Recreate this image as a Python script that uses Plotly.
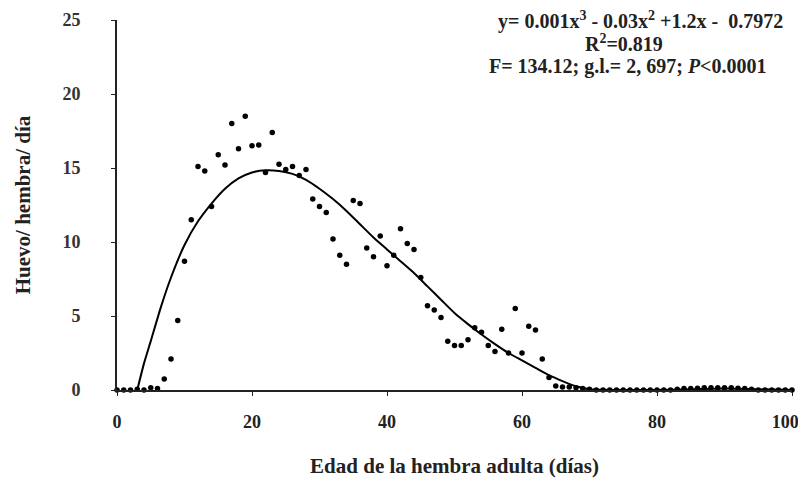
import plotly.graph_objects as go

# Observed data (day, eggs/female/day)
days = list(range(0, 101))
eggs = [0, 0, 0, 0.05, 0, 0.15, 0.1, 0.74, 2.1, 4.7,
        8.7, 11.5, 15.1, 14.8, 12.4, 15.9, 15.2, 18.0, 16.3, 18.5,
        16.5, 16.55, 14.7, 17.4, 15.25, 14.9, 15.1, 14.5, 14.9, 12.9,
        12.4, 12.0, 10.2, 9.1, 8.5, 12.8, 12.6, 9.6, 9.0, 10.4,
        8.4, 9.1, 10.9, 9.9, 9.5, 7.6, 5.7, 5.4, 4.9, 3.3,
        3.0, 3.0, 3.4, 4.2, 3.9, 3.0, 2.6, 4.1, 2.5, 5.5,
        2.5, 4.3, 4.05, 2.1, 0.85, 0.27, 0.2, 0.2, 0.15, 0.1,
        0.05, 0, 0, 0, 0, 0, 0, 0, 0, 0,
        0, 0, 0, 0.05, 0.1, 0.1, 0.12, 0.15, 0.15, 0.15,
        0.15, 0.15, 0.12, 0.1, 0.05, 0, 0, 0, 0, 0, 0]

# Fitted curve
curve_x = [3.0, 4, 5, 6.5, 8, 10, 12, 14, 16, 18, 20, 22, 24, 26, 28, 30, 32, 34,
           36, 38, 40, 42, 44, 46, 48, 50, 52, 54, 56, 58, 60, 62, 64, 66, 68, 70,
           75, 80, 85, 90, 95, 100]
curve_y = [0, 1.8, 3.3, 5.6, 7.6, 9.8, 11.4, 12.6, 13.6, 14.3, 14.7, 14.85, 14.8,
           14.6, 14.2, 13.6, 12.9, 12.1, 11.2, 10.3, 9.5, 8.7, 7.9, 7.0, 6.1, 5.2,
           4.45, 3.75, 3.1, 2.5, 2.0, 1.5, 1.0, 0.6, 0.25, 0.05, 0, 0, 0.05, 0.1,
           0.05, 0]

x_ticks = [0, 20, 40, 60, 80, 100]
y_ticks = [0, 5, 10, 15, 20, 25]

font_family = "Liberation Serif"
PAD = "&nbsp;" * 6

x_ticktext = ["<b>%d</b>" % v for v in x_ticks]
x_ticktext[-1] = x_ticktext[-1] + "&nbsp;" * 3  # keep last label inside the page

fig = go.Figure()
fig.add_trace(go.Scatter(x=curve_x, y=curve_y, mode="lines",
                         line=dict(color="black", width=2, shape="spline", smoothing=0.5),
                         cliponaxis=False, hoverinfo="skip"))
fig.add_trace(go.Scatter(x=days, y=eggs, mode="markers",
                         marker=dict(color="black", size=5.5),
                         cliponaxis=False))

fig.update_layout(
    width=798, height=470,
    margin=dict(l=109, r=14, t=12, b=88),
    paper_bgcolor="white", plot_bgcolor="white",
    showlegend=False,
    font=dict(family=font_family, color="#222"),
    xaxis=dict(range=[0, 100], tickvals=x_ticks, ticktext=x_ticktext,
               automargin=False, ticklabeloverflow="allow",
               showgrid=False, zeroline=False, showline=True, linecolor="#222",
               linewidth=2, ticks="outside", ticklen=4, tickwidth=1, tickcolor="#222",
               tickfont=dict(family=font_family, size=18, color="#222"),
               ticklabelstandoff=10,
               title=dict(text="<b>Edad de la hembra adulta (días)</b>",
                          font=dict(family=font_family, size=21, color="#222"),
                          standoff=29)),
    yaxis=dict(range=[0, 25], tickvals=y_ticks,
               ticktext=["<b>%d</b>%s" % (v, PAD) for v in y_ticks],
               automargin=False,
               showgrid=False, zeroline=False, showline=True, linecolor="#222",
               linewidth=2, ticks="outside", ticklen=4, tickwidth=1, tickcolor="#222",
               tickfont=dict(family=font_family, size=18, color="#333"),
               title=dict(text="<b>Huevo/ hembra/ día</b>",
                          font=dict(family=font_family, size=21, color="#222"),
                          standoff=26)),
)

ann_font = dict(family=font_family, size=20, color="#222")
fig.add_annotation(x=0.776, y=1.0, xref="paper", yref="paper", showarrow=False,
                   text="<b>y= 0.001x<sup>3</sup> - 0.03x<sup>2</sup> +1.2x -  0.7972</b>",
                   font=ann_font, xanchor="center", yanchor="middle")
fig.add_annotation(x=0.751, y=0.938, xref="paper", yref="paper", showarrow=False,
                   text="<b>R<sup>2</sup>=0.819</b>",
                   font=ann_font, xanchor="center", yanchor="middle")
fig.add_annotation(x=0.757, y=0.873, xref="paper", yref="paper", showarrow=False,
                   text="<b>F= 134.12; g.l.= 2, 697; <i>P</i>&lt;0.0001</b>",
                   font=ann_font, xanchor="center", yanchor="middle")

fig.write_html("out.html")
